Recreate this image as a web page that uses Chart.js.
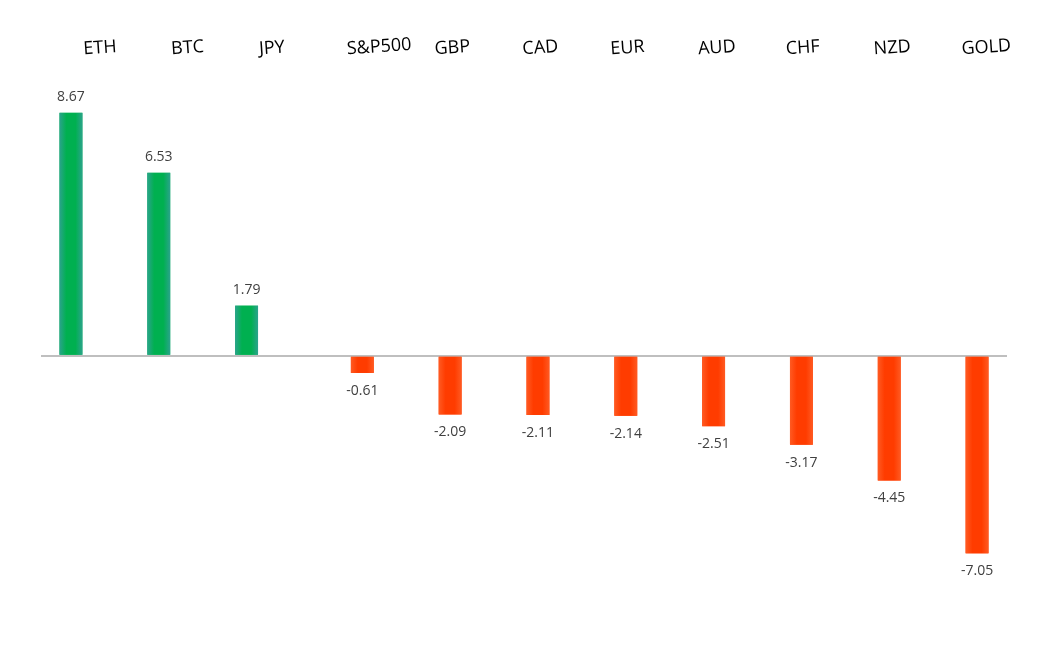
<!DOCTYPE html>
<html>
<head>
<meta charset="utf-8">
<script src="https://cdn.jsdelivr.net/npm/chart.js@4"></script>
<style>
  html, body { margin: 0; padding: 0; background: #fff; }
  #wrap { width: 1061px; height: 654px; position: relative; }
</style>
</head>
<body>
<div id="wrap"><canvas id="grafico"></canvas></div>
<script>
const categorias = ["ETH", "BTC", "JPY", "S&P500", "GBP", "CAD", "EUR", "AUD", "CHF", "NZD", "GOLD"];
const valores = [8.67, 6.53, 1.79, -0.61, -2.09, -2.11, -2.14, -2.51, -3.17, -4.45, -7.05];

// two series so gains and losses sit in their own slot
const subidas = valores.map(v => v >= 0 ? v : null);
const bajadas = valores.map(v => v < 0 ? v : null);

const VERDE = { borde: "#2ba38c", centro: "#00b050" };
const ROJO = { borde: "#ff5a22", centro: "#ff3c00" };

// gradient fill + value labels on each bar
const barrasPlugin = {
  id: "barras",
  afterDatasetsDraw(chart) {
    const ctx = chart.ctx;
    chart.data.datasets.forEach((ds, i) => {
      const meta = chart.getDatasetMeta(i);
      const col = i === 0 ? VERDE : ROJO;
      meta.data.forEach((bar, j) => {
        const v = ds.data[j];
        if (v === null) return;
        const { x, y, base, width } = bar.getProps(["x", "y", "base", "width"], true);
        const g = ctx.createLinearGradient(x - width / 2, 0, x + width / 2, 0);
        g.addColorStop(0, col.borde);
        g.addColorStop(0.3, col.centro);
        g.addColorStop(0.7, col.centro);
        g.addColorStop(1, col.borde);
        ctx.save();
        ctx.fillStyle = g;
        ctx.fillRect(x - width / 2, Math.min(y, base), width, Math.abs(base - y));
        ctx.fillStyle = "#404040";
        ctx.font = "14px 'Open Sans'";
        ctx.textAlign = "center";
        ctx.textBaseline = "middle";
        ctx.fillText(v.toFixed(2), x, v >= 0 ? y - 16 : y + 18);
        ctx.restore();
      });
    });
  }
};

new Chart(document.getElementById("grafico"), {
  type: "bar",
  data: {
    labels: categorias,
    datasets: [
      { data: subidas, backgroundColor: VERDE.centro },
      { data: bajadas, backgroundColor: ROJO.centro }
    ]
  },
  options: {
    responsive: true,
    maintainAspectRatio: false,
    animation: false,
    categoryPercentage: 0.636,
    barPercentage: 0.82,
    layout: { padding: { left: 41, right: 54, top: 20, bottom: 46 } },
    plugins: { legend: { display: false }, tooltip: { enabled: false } },
    scales: {
      x: {
        position: "top",
        grid: { display: false },
        border: { display: false },
        afterFit: s => { s.height = 50; },
        ticks: {
          autoSkip: false,
          minRotation: 4,
          maxRotation: 4,
          padding: 2,
          color: "#000",
          font: { family: "'Open Sans'", size: 18 }
        }
      },
      y: {
        min: -9,
        max: 10.2,
        ticks: { display: false },
        border: { display: false },
        grid: {
          drawTicks: false,
          color: c => c.tick.value === 0 ? "#bfbfbf" : "rgba(0,0,0,0)",
          lineWidth: 2
        }
      }
    }
  },
  plugins: [barrasPlugin]
});
</script>
</body>
</html>
